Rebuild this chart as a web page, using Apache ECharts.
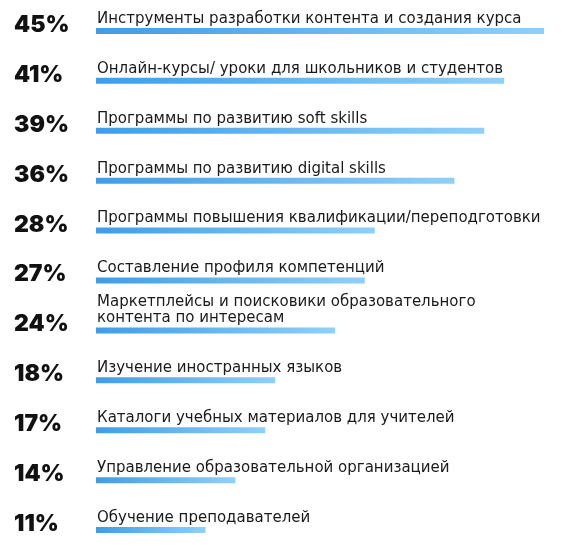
<!DOCTYPE html>
<html lang="ru">
<head>
    <meta charset="UTF-8">
    <title>Направления</title>
    <style>
        html, body {
            margin: 0;
            padding: 0;
            background: #fff;
        }

        #chart {
            width: 577px;
            height: 555px;
        }
    </style>
</head>
<body>
<div id="chart"></div>
<script src="https://cdn.jsdelivr.net/npm/echarts@6/dist/echarts.min.js"></script>
<script>
    var categories = [
        'Инструменты разработки контента и создания курса',
        'Онлайн-курсы/ уроки для школьников и студентов',
        'Программы по развитию soft skills',
        'Программы по развитию digital skills',
        'Программы повышения квалификации/переподготовки',
        'Составление профиля компетенций',
        'Маркетплейсы и поисковики образовательного\nконтента по интересам',
        'Изучение иностранных языков',
        'Каталоги учебных материалов для учителей',
        'Управление образовательной организацией',
        'Обучение преподавателей'
    ];
    var values = [45, 41, 39, 36, 28, 27, 24, 18, 17, 14, 11];

    var chart = echarts.init(document.getElementById('chart'));

    var option = {
        animation: false,
        grid: {
            left: 96,
            top: 6,
            width: 448,
            height: 551
        },
        xAxis: {
            type: 'value',
            min: 0,
            max: 45,
            show: false
        },
        yAxis: {
            type: 'category',
            data: categories,
            inverse: true,
            axisLine: {show: false},
            axisTick: {show: false},
            axisLabel: {
                margin: 82,
                align: 'left',
                verticalAlign: 'bottom',
                lineHeight: 12,
                fontFamily: 'Inter',
                fontWeight: 900,
                fontSize: 23,
                color: '#111',
                formatter: function (val, i) {
                    return values[i] + '%';
                }
            }
        },
        series: [
            {
                type: 'bar',
                data: values,
                barWidth: 6,
                itemStyle: {
                    color: new echarts.graphic.LinearGradient(0, 0, 1, 0, [
                        {offset: 0, color: '#3f9de6'},
                        {offset: 1, color: '#8fd0f8'}
                    ])
                },
                label: {
                    show: true,
                    position: [1, -1],
                    align: 'left',
                    verticalAlign: 'bottom',
                    lineHeight: 16,
                    fontFamily: 'DejaVu Sans',
                    fontSize: 15,
                    color: '#1a1a1a',
                    formatter: function (p) {
                        return categories[p.dataIndex];
                    }
                }
            }
        ]
    };

    chart.setOption(option);
</script>
</body>
</html>
